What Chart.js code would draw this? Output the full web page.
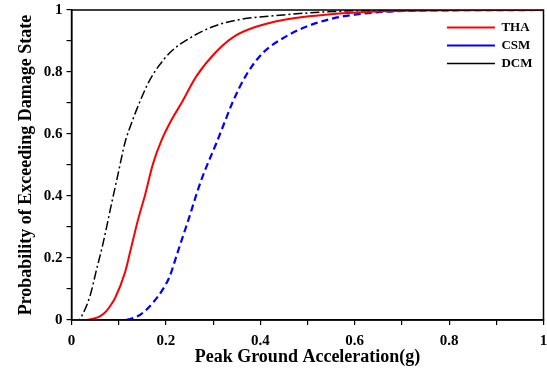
<!DOCTYPE html>
<html>
<head>
<meta charset="utf-8">
<script src="https://cdn.jsdelivr.net/npm/chart.js@4/dist/chart.umd.min.js"></script>
<style>
html,body{margin:0;padding:0;background:#fff;}
#wrap{width:547px;height:372px;position:relative;}
</style>
</head>
<body>
<div id="wrap"><canvas id="c" width="547" height="372"></canvas></div>
<script>
// Peak ground acceleration (g) and exceedance probability
const thaPGA = [0, 0.03, 0.045, 0.06, 0.071, 0.084, 0.092, 0.113, 0.127, 0.141, 0.155, 0.173, 0.191, 0.212, 0.233, 0.264, 0.307, 0.345, 0.391, 0.448, 0.554, 0.65, 0.8, 1.0];
const thaProb = [0, 0, 0.004, 0.012, 0.024, 0.05, 0.07, 0.152, 0.238, 0.324, 0.399, 0.506, 0.581, 0.646, 0.7, 0.785, 0.866, 0.915, 0.946, 0.968, 0.987, 0.995, 0.999, 1];

const csmPGA = [0, 0.11, 0.134, 0.151, 0.172, 0.193, 0.208, 0.222, 0.236, 0.25, 0.261, 0.275, 0.289, 0.307, 0.321, 0.342, 0.37, 0.405, 0.448, 0.497, 0.554, 0.6, 0.673, 0.8, 1.0];
const csmProb = [0, 0, 0.008, 0.023, 0.055, 0.098, 0.141, 0.205, 0.27, 0.334, 0.388, 0.452, 0.506, 0.571, 0.625, 0.705, 0.79, 0.861, 0.909, 0.946, 0.973, 0.985, 0.995, 0.999, 1];

const dcmPGA = [0, 0.015, 0.025, 0.039, 0.053, 0.067, 0.085, 0.099, 0.113, 0.127, 0.145, 0.161, 0.179, 0.211, 0.25, 0.299, 0.352, 0.448, 0.553, 0.7, 1.0];
const dcmProb = [0, 0, 0.023, 0.077, 0.163, 0.249, 0.377, 0.474, 0.571, 0.635, 0.705, 0.76, 0.807, 0.866, 0.909, 0.946, 0.968, 0.984, 0.995, 0.999, 1];

const seriesNames = ['THA', 'CSM', 'DCM'];
const xTitle = 'Peak Ground Acceleration(g)';
const yTitle = 'Probability of Exceeding Damage State';

function pairs(xs, ys) { return xs.map((x, i) => ({x: x, y: ys[i]})); }

const FONT = "'Times New Roman', 'Liberation Serif', serif";

const boxPlugin = {
  id: 'boxPlugin',
  beforeDraw(chart) {
    const lg = chart.legend;
    const a = chart.chartArea;
    if (lg) {
      const w = lg.width;
      lg.left = a.right - w - 1;
      lg.right = lg.left + w;
      lg.top = a.top + 6;
      lg.bottom = lg.top + lg.height;
    }
  },
  afterDraw(chart) {
    const a = chart.chartArea;
    const ctx = chart.ctx;
    ctx.save();
    ctx.strokeStyle = '#000';
    ctx.lineWidth = 1.5;
    ctx.setLineDash([]);
    ctx.strokeRect(a.left, a.top, a.right - a.left, a.bottom - a.top);
    ctx.restore();
  }
};

function tickLabel(v) {
  const k = Math.round(v * 10);
  if (k % 2 !== 0) return '';
  return String(k / 10);
}

new Chart(document.getElementById('c'), {
  type: 'line',
  data: {
    datasets: [
      {
        label: seriesNames[0],
        data: pairs(thaPGA, thaProb),
        borderColor: '#ff0000',
        backgroundColor: '#ff0000',
        borderWidth: 2,
        pointRadius: 0,
        cubicInterpolationMode: 'monotone',
        fill: false
      },
      {
        label: seriesNames[1],
        data: pairs(csmPGA, csmProb),
        borderColor: '#0000ff',
        backgroundColor: '#0000ff',
        borderWidth: 2.2,
        borderDash: [7, 4],
        pointRadius: 0,
        cubicInterpolationMode: 'monotone',
        fill: false
      },
      {
        label: seriesNames[2],
        data: pairs(dcmPGA, dcmProb),
        borderColor: '#000000',
        backgroundColor: '#000000',
        borderWidth: 1.5,
        borderDash: [9, 3, 2, 3],
        pointRadius: 0,
        cubicInterpolationMode: 'monotone',
        fill: false
      }
    ]
  },
  options: {
    responsive: false,
    animation: false,
    devicePixelRatio: 1,
    layout: { padding: { left: 14, right: 0, top: 0, bottom: 5 } },
    plugins: {
      tooltip: { enabled: false },
      legend: {
        position: 'chartArea',
        align: 'start',
        labels: {
          usePointStyle: true,
          pointStyle: 'line',
          pointStyleWidth: 48,
          boxHeight: 13,
          padding: 5,
          color: '#000',
          font: { family: FONT, size: 13, weight: 'bold' }
        }
      }
    },
    scales: {
      x: {
        type: 'linear',
        min: 0,
        max: 1,
        afterFit: (scale) => { scale.paddingRight = 3.5; scale.height = 47; },
        ticks: {
          stepSize: 0.1,
          autoSkip: false,
          maxRotation: 0,
          color: '#000',
          padding: 8,
          font: { family: FONT, size: 15, weight: 'bold', lineHeight: 1.1 },
          callback: tickLabel
        },
        grid: { drawOnChartArea: false, drawTicks: true, tickLength: 5, color: '#000', lineWidth: 1.2 },
        border: { display: true, color: '#000', width: 1.5 },
        title: {
          display: true,
          text: xTitle,
          color: '#000',
          padding: { top: 0, bottom: 0 },
          font: { family: FONT, size: 18, weight: 'bold', lineHeight: 1.1 }
        }
      },
      y: {
        type: 'linear',
        min: 0,
        max: 1,
        afterFit: (scale) => { scale.paddingTop = 10; },
        ticks: {
          stepSize: 0.1,
          autoSkip: false,
          color: '#000',
          padding: 4,
          font: { family: FONT, size: 15, weight: 'bold' },
          callback: tickLabel
        },
        grid: { drawOnChartArea: false, drawTicks: true, tickLength: 5, color: '#000', lineWidth: 1.2 },
        border: { display: true, color: '#000', width: 1.5 },
        title: {
          display: true,
          text: yTitle,
          color: '#000',
          padding: { top: 2, bottom: 4 },
          font: { family: FONT, size: 18, weight: 'bold', lineHeight: 1.1 }
        }
      }
    }
  },
  plugins: [boxPlugin]
});
</script>
</body>
</html>
